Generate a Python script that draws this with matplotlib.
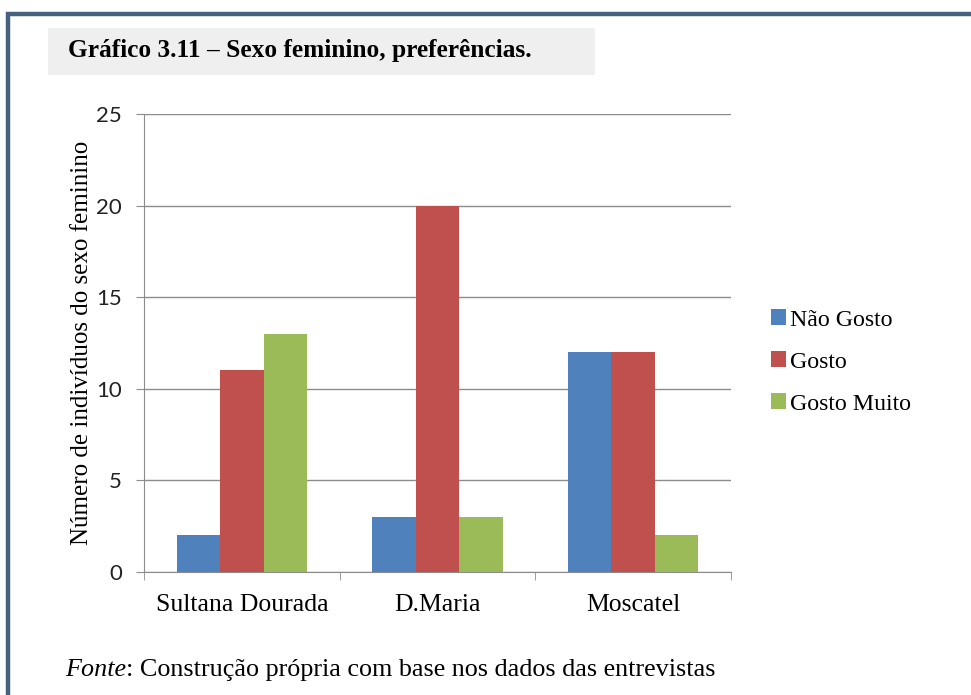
import numpy as np
import matplotlib.pyplot as plt
from matplotlib.patches import Rectangle


categories = ['Sultana Dourada', 'D.Maria', 'Moscatel']
series = ['Não Gosto', 'Gosto', 'Gosto Muito']
nao_gosto = [2, 3, 12]
gosto = [11, 20, 12]
gosto_muito = [13, 3, 2]
colors = ['#4F81BD', '#C0504D', '#9BBB59']
yticks = [0, 5, 10, 15, 20, 25]

serif = 'Liberation Serif'

fig = plt.figure(figsize=(9.71, 6.95), dpi=100)
fig.patch.set_facecolor('white')

# outer frame (only top and left visible, rest runs off the picture)
fig.patches.append(Rectangle((8/971, -0.05), 1.1, 1 - 14/695 + 0.05, transform=fig.transFigure,
                             fill=False, edgecolor='#46607F', linewidth=3.2, zorder=0))
# grey title box
fig.patches.append(Rectangle((48/971, 1 - 75/695), (595-48)/971, 47/695, transform=fig.transFigure,
                             facecolor='#EFEFEF', edgecolor='none', zorder=1))
fig.text(68/971, 1 - 50/695, 'Gráfico 3.11 – Sexo feminino, preferências.', family=serif,
         fontweight='bold', fontsize=18.3, va='center', ha='left', zorder=2)

ax = fig.add_axes([144/971, 1 - 572/695, (731-144)/971, (572-114)/695])
x = np.arange(len(categories))
w = 1/4.5
for i, (vals, name) in enumerate(zip([nao_gosto, gosto, gosto_muito], series)):
    ax.bar(x + (i - 1)*w, vals, width=w, color=colors[i], label=name, zorder=3)

ax.set_xlim(-0.5, len(categories) - 0.5)
ax.set_ylim(0, 25)
ax.set_yticks(yticks)
ax.set_yticklabels([str(t) for t in yticks], family='Lato', fontsize=16, color='#222222')
ax.set_xticks(x)
ax.set_xticklabels(categories, family=serif, fontsize=18.5)
ax.set_xticks(np.arange(-0.5, len(categories)), minor=True)
ax.tick_params(axis='x', which='major', length=0, pad=16)
ax.tick_params(axis='x', which='minor', length=6, color='#8C8C8C')
ax.tick_params(axis='y', length=6, color='#8C8C8C', pad=10)
ax.yaxis.grid(True, color='#8C8C8C', linewidth=1, zorder=0)
ax.set_axisbelow(True)
for s in ['top', 'right']:
    ax.spines[s].set_visible(False)
for s in ['left', 'bottom']:
    ax.spines[s].set_color('#8C8C8C')
ax.set_ylabel('Número de indivíduos do sexo feminino', family=serif, fontsize=18, labelpad=2)

ax.legend(loc='center left', bbox_to_anchor=(759/971, 1 - 362/695), bbox_transform=fig.transFigure,
          frameon=False, prop={'family': serif, 'size': 17.2}, handlelength=0.65, handleheight=0.65,
          handletextpad=0.15, labelspacing=0.87, borderpad=0)

fonte = fig.text(65/971, 1 - 676/695, 'Fonte', family=serif, style='italic', fontsize=18.8,
                 va='baseline', ha='left')
ax.annotate(': Construção própria com base nos dados das entrevistas', xy=(1, 0), xycoords=fonte,
            va='bottom', ha='left', family=serif, fontsize=18.8, annotation_clip=False)

fig.savefig('out.png', dpi=100)
